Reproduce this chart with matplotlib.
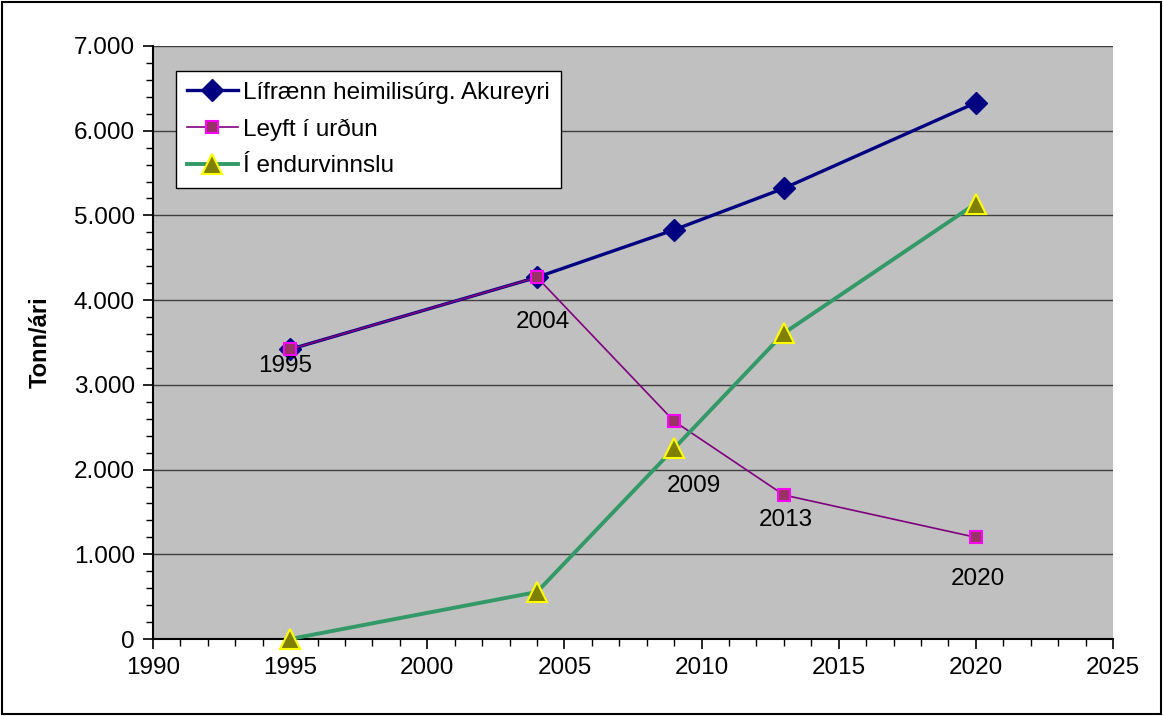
import matplotlib
matplotlib.use("Agg")
import matplotlib.pyplot as plt
from matplotlib.ticker import MultipleLocator, FuncFormatter
from matplotlib.patches import Rectangle

plt.rcParams['font.family'] = ['Liberation Sans', 'DejaVu Sans']

# data
years = [1995, 2004, 2009, 2013, 2020]
lifraenn = [3420, 4270, 4830, 5320, 6330]
urdun = [3420, 4270, 2570, 1700, 1200]
endurvinnsla = [0, 555, 2250, 3610, 5140]
year_labels = ["1995", "2004", "2009", "2013", "2020"]
label_offsets = [(-5, -17), (6, -45), (20, -65), (2, -25), (2, -42)]

fig = plt.figure(figsize=(11.63, 7.16), dpi=100)
ax = fig.add_axes([153/1163, 1 - 639/716, 960/1163, 593/716])
ax.set_facecolor('#C0C0C0')

ax.plot(years, lifraenn, '-D', color='#000080', lw=2.4, ms=11,
        mfc='#000080', mec='#000080', label='Lífrænn heimilisúrg. Akureyri', zorder=3)
ax.plot(years, urdun, '-s', color='#800080', lw=1.2, ms=8,
        mfc='#993366', mec='#FF00FF', mew=1.5, label='Leyft í urðun', zorder=4)
ax.plot(years, endurvinnsla, '-^', color='#339966', lw=2.8, ms=14,
        mfc='#808000', mec='#FFFF00', mew=1.5, label='Í endurvinnslu', zorder=5,
        clip_on=False)

for x, y, t, off in zip(years, urdun, year_labels, label_offsets):
    ax.annotate(t, (x, y), xytext=off, textcoords='offset pixels',
                ha='center', va='center', fontsize=17.5)

ax.set_xlim(1990, 2025)
ax.set_ylim(0, 7000)
ax.xaxis.set_major_locator(MultipleLocator(5))
ax.xaxis.set_minor_locator(MultipleLocator(1))
ax.yaxis.set_major_locator(MultipleLocator(1000))
ax.yaxis.set_minor_locator(MultipleLocator(200))
ax.yaxis.set_major_formatter(FuncFormatter(lambda v, p: f"{int(v):,}".replace(",", ".")))
ax.tick_params(which='major', length=7, width=1.2, labelsize=17.5, pad=6)
ax.tick_params(which='minor', length=5, width=1)
ax.grid(axis='y', which='major', color='#404040', lw=1)
ax.set_axisbelow(True)
for s in ['top', 'right']:
    ax.spines[s].set_visible(False)
for s in ['left', 'bottom']:
    ax.spines[s].set_linewidth(1.5)

ax.set_ylabel('Tonn/ári', fontsize=17, fontweight='bold', labelpad=16)

leg = ax.legend(loc='upper left', bbox_to_anchor=(0.024, 0.958), borderaxespad=0,
                fontsize=17.5, frameon=True, fancybox=False, handlelength=2.1,
                handletextpad=0.2, labelspacing=0.6, borderpad=0.45)
leg.get_frame().set_edgecolor('black')
leg.get_frame().set_linewidth(1)
leg.get_frame().set_alpha(1)

fig.patches.append(Rectangle((2/1163, 2/716), 1 - 4/1163, 1 - 4/716,
                             transform=fig.transFigure, fill=False,
                             edgecolor='black', lw=1.5))

fig.savefig('out.png', dpi=100)
